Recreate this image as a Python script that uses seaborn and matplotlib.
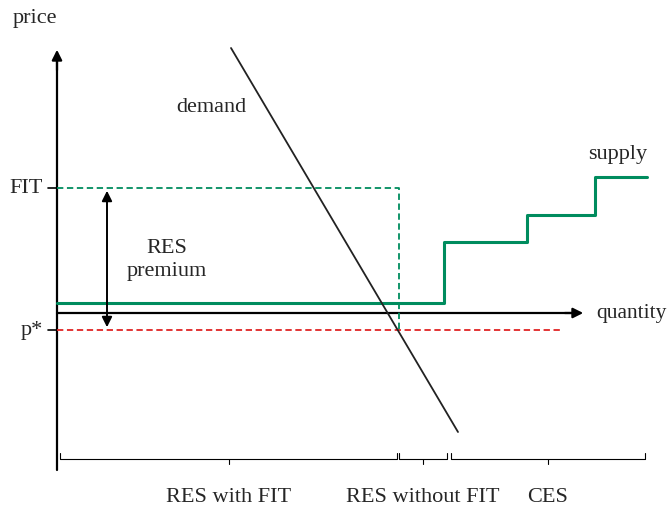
import numpy as np
import pandas as pd
import matplotlib.pyplot as plt
import seaborn as sns

# price / quantity units: origin where the quantity axis crosses the price axis
fit_price = 125
p_star = -17
supply_q = [0, 387, 387, 470, 470, 538, 538, 590]
supply_p = [10, 10, 71, 71, 98, 98, 136, 136]
demand_q = [174, 401]
demand_p = [265, -119]
fit_cap_q = 342
p_star_end_q = 505
premium_q = 50

# segments under the axis
segments = ["RES with FIT", "RES without FIT", "CES"]
seg_start = [3, 342, 394]
seg_end = [340, 390, 588]

sns.set_theme(style="white")
plt.rcParams['font.family'] = ['Liberation Serif', 'DejaVu Serif']

fig = plt.figure(figsize=(6.71, 5.11), dpi=100)
ax = fig.add_axes([0, 0, 1, 1])
ax.set_xlim(-57, 614)
ax.set_ylim(-198, 313)
ax.set_axis_off()

green = '#008C5E'
red = '#E02424'
fs = 16

# axes with arrows
ax.plot([0, 0], [-157, 255], color='black', lw=1.6)
ax.annotate('', xy=(0, 266), xytext=(0, 240),
            arrowprops=dict(arrowstyle='-|>', color='black', lw=1.6, mutation_scale=15))
ax.plot([0, 518], [0, 0], color='black', lw=1.6)
ax.annotate('', xy=(529, 0), xytext=(505, 0),
            arrowprops=dict(arrowstyle='-|>', color='black', lw=1.6, mutation_scale=15))
ax.text(-22, 295, 'price', fontsize=fs, ha='center', va='center')
ax.text(539, 0, 'quantity', fontsize=15.5, ha='left', va='center')

# price ticks
for p, lab in [(fit_price, 'FIT'), (p_star, 'p*')]:
    ax.plot([-9, 0], [p, p], color='black', lw=1.2)
    ax.text(-14, p, lab, fontsize=fs, ha='right', va='center')

# FIT dashed box and p* dashed line
sns.lineplot(x=[0, fit_cap_q, fit_cap_q], y=[fit_price, fit_price, p_star],
             sort=False, estimator=None, color=green, lw=1.3, linestyle=(0, (3.5, 2)), ax=ax)
sns.lineplot(x=[0, p_star_end_q], y=[p_star, p_star],
             sort=False, estimator=None, color=red, lw=1.3, linestyle=(0, (3.5, 2)), ax=ax)

# supply steps
sns.lineplot(x=supply_q, y=supply_p, sort=False, estimator=None, color=green, lw=2.2, ax=ax)
ax.text(561, 159, 'supply', fontsize=fs, ha='center', va='center')

# demand
sns.lineplot(x=demand_q, y=demand_p, sort=False, estimator=None, color='#222222', lw=1.3, ax=ax)
ax.text(154, 206, 'demand', fontsize=fs, ha='center', va='center')

# RES premium double arrow
ax.annotate('', xy=(premium_q, fit_price), xytext=(premium_q, p_star),
            arrowprops=dict(arrowstyle='<|-|>', color='black', lw=1.4, mutation_scale=15))
ax.text(110, 53, 'RES\npremium', fontsize=fs, ha='center', va='center', linespacing=1.25)

# brackets under the axis
by = -146
for name, a, b in zip(segments, seg_start, seg_end):
    mid = (a + b) / 2
    ax.plot([a, a, b, b], [by + 6, by, by, by + 6], color='black', lw=0.8)
    ax.plot([mid, mid], [by, by - 5], color='black', lw=0.8)
    ax.text(mid, -184, name, fontsize=fs, ha='center', va='center')

fig.savefig('out.png', dpi=100)
